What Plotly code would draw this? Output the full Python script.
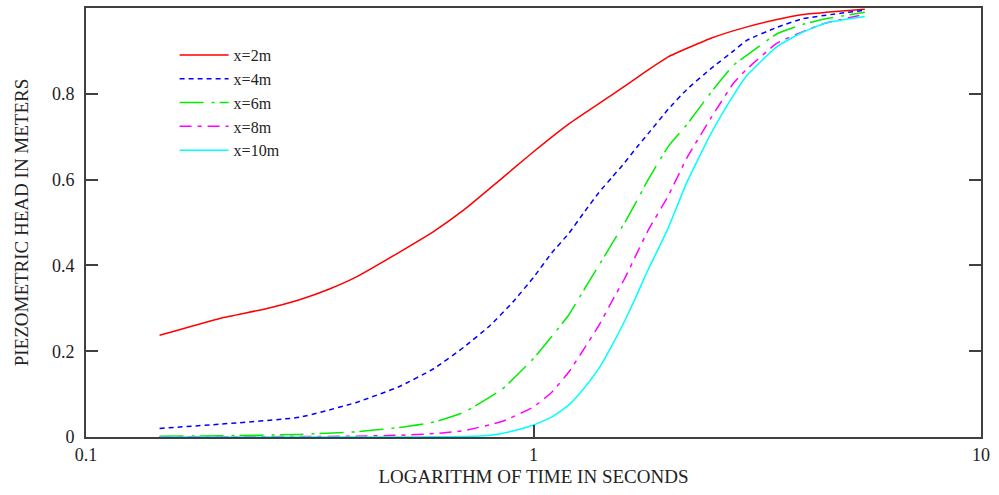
import plotly.graph_objects as go

# Time samples (seconds) and piezometric head (m) for each observation distance
t_red = [0.146, 0.2, 0.25, 0.3, 0.35, 0.4, 0.5, 0.6, 0.7, 0.8, 0.9, 1.0, 1.2, 1.5, 1.8, 2.0, 2.5, 3.0, 3.5, 4.0, 4.5, 5.5]
h_red = [0.237, 0.277, 0.298, 0.32, 0.345, 0.372, 0.43, 0.48, 0.53, 0.58, 0.625, 0.665, 0.73, 0.798, 0.855, 0.886, 0.93, 0.956, 0.973, 0.985, 0.99, 0.997]

t_blue = [0.146, 0.2, 0.3, 0.4, 0.5, 0.6, 0.7, 0.8, 0.9, 1.0, 1.1, 1.2, 1.3, 1.4, 1.5, 1.6, 1.7, 1.8, 2.0, 2.2, 2.5, 2.8, 3.0, 3.5, 4.0, 5.5]
h_blue = [0.02, 0.03, 0.046, 0.08, 0.117, 0.16, 0.21, 0.26, 0.315, 0.372, 0.43, 0.475, 0.525, 0.57, 0.606, 0.64, 0.675, 0.706, 0.764, 0.81, 0.86, 0.90, 0.925, 0.955, 0.975, 0.995]

t_green = [0.146, 0.2, 0.3, 0.4, 0.5, 0.6, 0.7, 0.85, 1.0, 1.1, 1.2, 1.3, 1.4, 1.5, 1.6, 1.7, 1.8, 2.0, 2.2, 2.5, 2.8, 3.0, 3.5, 4.0, 4.5, 5.5]
h_green = [0.002, 0.003, 0.006, 0.012, 0.022, 0.035, 0.058, 0.111, 0.183, 0.235, 0.285, 0.345, 0.40, 0.452, 0.50, 0.55, 0.598, 0.677, 0.728, 0.805, 0.867, 0.89, 0.94, 0.962, 0.975, 0.99]

t_mag = [0.146, 0.3, 0.4, 0.5, 0.6, 0.7, 0.85, 1.0, 1.1, 1.2, 1.3, 1.4, 1.5, 1.6, 1.7, 1.8, 2.0, 2.2, 2.5, 2.8, 3.0, 3.5, 4.0, 4.5, 5.5]
h_mag = [0.0005, 0.001, 0.002, 0.004, 0.008, 0.015, 0.036, 0.07, 0.105, 0.152, 0.207, 0.26, 0.318, 0.37, 0.427, 0.48, 0.562, 0.65, 0.746, 0.825, 0.858, 0.918, 0.945, 0.965, 0.985]

t_cyan = [0.146, 0.3, 0.5, 0.6, 0.7, 0.8, 0.9, 1.0, 1.1, 1.2, 1.3, 1.4, 1.5, 1.6, 1.7, 1.8, 2.0, 2.2, 2.5, 2.8, 3.0, 3.5, 4.0, 4.5, 5.5]
h_cyan = [0.0, 0.0, 0.0, 0.0003, 0.001, 0.004, 0.014, 0.028, 0.047, 0.075, 0.115, 0.16, 0.215, 0.271, 0.33, 0.388, 0.487, 0.593, 0.71, 0.797, 0.843, 0.91, 0.944, 0.965, 0.98]

series = [
    ("x=2m", t_red, h_red, "#ff0000", "solid"),
    ("x=4m", t_blue, h_blue, "#0000ff", "5px,4px"),
    ("x=6m", t_green, h_green, "#00ee00", "24px,8px,3px,5px"),
    ("x=8m", t_mag, h_mag, "#ff00ff", "12px,6px,4px,6px"),
    ("x=10m", t_cyan, h_cyan, "#00ffff", "solid"),
]

x_ticks = [0.1, 1, 10]
x_ticktext = ["0.1", "1", "10"]
y_ticks = [0, 0.2, 0.4, 0.6, 0.8]
y_ticktext = ["0", "0.2", "0.4", "0.6", "0.8"]

FONT = "Liberation Serif"
AXIS_COLOR = "#404040"
TEXT_COLOR = "#222222"

fig = go.Figure()
for i, (name, t, h, color, dash) in enumerate(series):
    fig.add_trace(go.Scatter(
        x=t, y=h, mode="lines", name=name, legendgroup=f"g{i}",
        line=dict(color=color, width=1.5, dash=dash, shape="spline", smoothing=0.4),
    ))

fig.update_layout(
    width=999, height=495,
    margin=dict(l=86, r=18, t=6, b=58),
    paper_bgcolor="white", plot_bgcolor="white",
    font=dict(family=FONT, size=18, color=TEXT_COLOR),
    showlegend=True,
    legend=dict(
        x=0.099, y=0.93, xanchor="left", yanchor="top",
        bgcolor="rgba(0,0,0,0)", borderwidth=0,
        font=dict(family=FONT, size=16, color=TEXT_COLOR),
        tracegroupgap=0, itemwidth=49,
    ),
    xaxis=dict(
        type="log", range=[-1, 1],
        tickmode="array", tickvals=x_ticks, ticktext=x_ticktext,
        ticks="inside", ticklen=12, tickwidth=2, tickcolor=AXIS_COLOR,
        showline=True, linewidth=2, linecolor=AXIS_COLOR, mirror=True,
        showgrid=False, zeroline=False,
        tickfont=dict(family=FONT, size=18, color=TEXT_COLOR),
        title=dict(text="LOGARITHM OF TIME IN SECONDS", standoff=6,
                   font=dict(family=FONT, size=19, color=TEXT_COLOR)),
    ),
    yaxis=dict(
        range=[0, 1],
        tickmode="array", tickvals=y_ticks, ticktext=y_ticktext,
        ticks="inside", ticklen=12, tickwidth=2, tickcolor=AXIS_COLOR,
        showline=True, linewidth=2, linecolor=AXIS_COLOR, mirror="ticks",
        showgrid=False, zeroline=False,
        ticklabelstandoff=6,
        tickfont=dict(family=FONT, size=18, color=TEXT_COLOR),
        title=dict(text="PIEZOMETRIC HEAD IN METERS", standoff=18,
                   font=dict(family=FONT, size=19, color=TEXT_COLOR)),
    ),
)

fig.write_html("out.html")
